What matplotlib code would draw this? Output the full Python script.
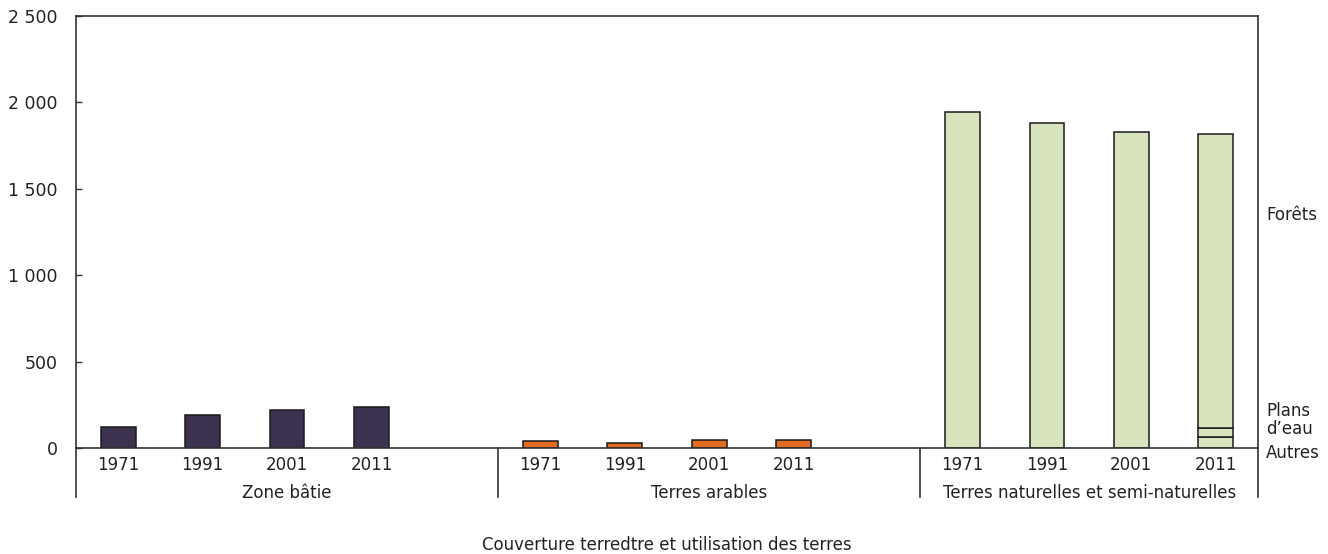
import matplotlib.pyplot as plt
from matplotlib import rcParams
from matplotlib.ticker import FuncFormatter
import matplotlib.transforms as mtransforms

rcParams["font.family"] = ["Liberation Sans Narrow", "DejaVu Sans"]
rcParams["font.size"] = 12

years = ["1971", "1991", "2001", "2011"]
groups = ["Zone bâtie", "Terres arables", "Terres naturelles et semi-naturelles"]
zone_batie = [120, 190, 222, 239]
terres_arables = [38, 31, 48, 44]
terres_naturelles = [1943, 1883, 1830]          # 1971, 1991, 2001 (totals)
nat_2011_parts = [65, 51, 1699]                  # Autres, Plans d'eau, Forêts
nat_2011_names = ["Autres", "Plans\nd\u2019eau", "Forêts"]
title = "Couverture terredtre et utilisation des terres"

c_bati = "#3d3150"
c_arable = "#e36c24"
c_nat = "#d7e4bd"
edge = "#1a1a1a"
fs = 12

fig = plt.figure(figsize=(13.28, 5.54), dpi=100)
ax = fig.add_axes([76 / 1328, 1 - 448 / 554, 1182 / 1328, 432 / 554])

w = 0.41
slots = 5
x_bati = [0.5 + i for i in range(4)]
x_arable = [slots + 0.5 + i for i in range(4)]
x_nat = [2 * slots + 0.5 + i for i in range(4)]

ax.bar(x_bati, zone_batie, w, color=c_bati, edgecolor=edge, linewidth=1.1)
ax.bar(x_arable, terres_arables, w, color=c_arable, edgecolor=edge, linewidth=1.1)
ax.bar(x_nat[:3], terres_naturelles, w, color=c_nat, edgecolor=edge, linewidth=1.1)
bottom = 0
for part in nat_2011_parts:
    ax.bar(x_nat[3], part, w, bottom=bottom, color=c_nat, edgecolor=edge, linewidth=1.1)
    bottom += part

ax.set_xlim(0, 14)
ax.set_ylim(0, 2500)
ax.set_yticks([0, 500, 1000, 1500, 2000, 2500])
ax.yaxis.set_major_formatter(FuncFormatter(lambda v, p: f"{int(v):,}".replace(",", " ")))
ax.tick_params(axis="y", direction="in", length=4, width=1, colors="#333333",
               labelcolor="#222222", labelsize=12.5, pad=13)
ax.set_xticks([])
for s in ax.spines.values():
    s.set_color("#333333")
    s.set_linewidth(1.2)

# category axis: year labels, group labels and separators below the baseline
trans = mtransforms.blended_transform_factory(ax.transData, ax.transAxes)
px = 1 / 432
for xs in (x_bati, x_arable, x_nat):
    for x, yr in zip(xs, years):
        ax.text(x, -17 * px, yr, transform=trans, ha="center", va="center",
                fontsize=fs, color="#222222")
for i, g in enumerate(groups):
    end = min((i + 1) * slots, 14)
    ax.text((i * slots + end) / 2, -45 * px, g, transform=trans, ha="center",
            va="center", fontsize=fs, color="#222222")
for xsep in [0, slots, 2 * slots, 14]:
    ax.plot([xsep, xsep], [0, -49 * px], transform=trans, color="#333333",
            lw=1.2, clip_on=False)

# series labels on the right
tr_right = mtransforms.blended_transform_factory(ax.transAxes, ax.transData)
ax.text(1.007, 1350, nat_2011_names[2], transform=tr_right, ha="left",
        va="center", fontsize=fs, color="#222222")
ax.text(1.007, 160, nat_2011_names[1], transform=tr_right, ha="left",
        va="center", fontsize=fs, color="#222222", linespacing=1.0)
ax.text(1.007, -28, nat_2011_names[0], transform=tr_right, ha="left",
        va="center", fontsize=fs, color="#222222")

fig.text(667 / 1328, 1 - 545 / 554, title, ha="center", va="center",
         fontsize=fs, color="#222222")

fig.savefig("out.png", dpi=100)
